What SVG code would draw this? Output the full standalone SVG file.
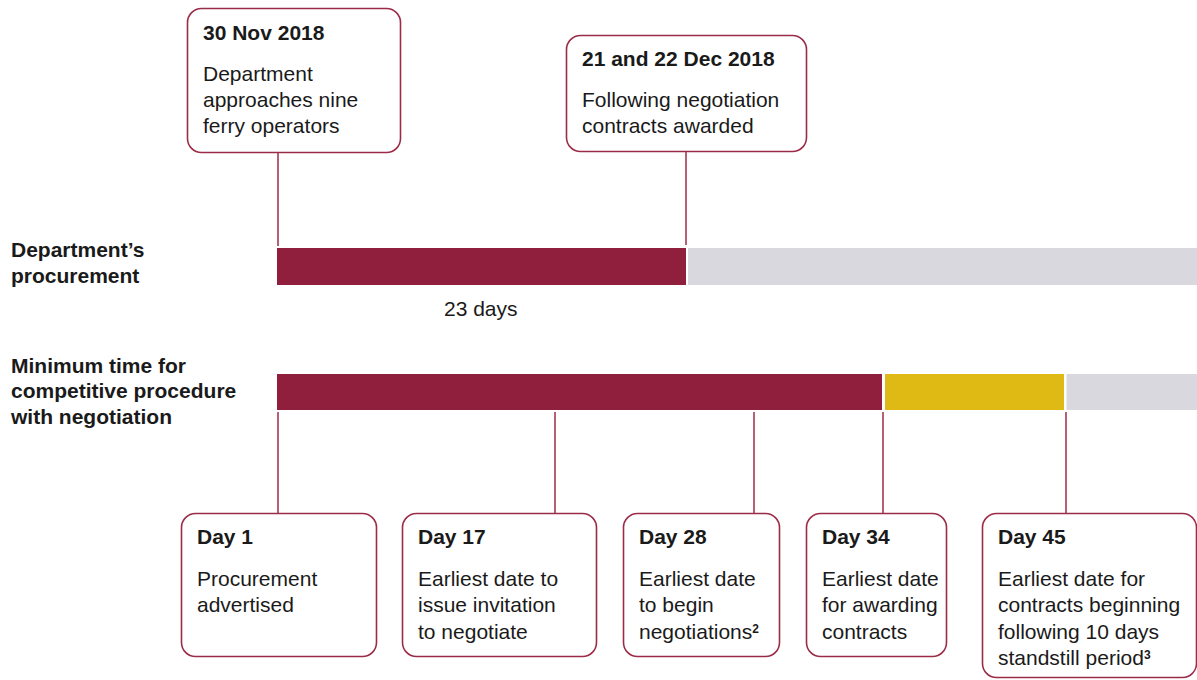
<svg xmlns="http://www.w3.org/2000/svg" width="1197" height="680" viewBox="0 0 1197 680">
<style>
text{font-family:"Liberation Sans",Arial,sans-serif;font-size:21px;fill:#1a1a1a}
.b{font-weight:bold}
.box{fill:#fff;stroke:#9b2c48;stroke-width:1.6}
.conn{stroke:#9b2c48;stroke-width:1.5;fill:none}
.red{fill:#8f1f3d}
.yel{fill:#dfb914}
.gry{fill:#d9d8de}
.sup{font-size:12px;font-weight:bold}
</style>
<rect width="1197" height="680" fill="#fff"/>
<g id="connectors">
<line class="conn" x1="278" y1="152" x2="278" y2="246"/>
<line class="conn" x1="686" y1="151" x2="686" y2="245"/>
<line class="conn" x1="278" y1="412" x2="278" y2="513"/>
<line class="conn" x1="555" y1="412" x2="555" y2="513"/>
<line class="conn" x1="754" y1="412" x2="754" y2="513"/>
<line class="conn" x1="883" y1="412" x2="883" y2="513"/>
<line class="conn" x1="1066" y1="412" x2="1066" y2="513"/>
</g>
<g id="bars">
<rect class="red" x="277" y="248" width="409" height="37"/>
<rect class="gry" x="688" y="248" width="509" height="37"/>
<rect class="red" x="277" y="374" width="605" height="36"/>
<rect class="yel" x="885" y="374" width="179" height="36"/>
<rect class="gry" x="1066.5" y="374" width="131" height="36"/>
</g>
<g id="labels">
<text class="b" x="11" y="257">Department’s</text>
<text class="b" x="11" y="283">procurement</text>
<text class="b" x="11" y="373">Minimum time for</text>
<text class="b" x="11" y="398">competitive procedure</text>
<text class="b" x="11" y="424">with negotiation</text>
<text x="444" y="316">23 days</text>
</g>
<g id="n-nov30">
<rect class="box" x="187.5" y="8.5" width="213" height="144" rx="14"/>
<text class="b" x="203" y="40">30 Nov 2018</text>
<text x="203" y="81">Department</text>
<text x="203" y="107">approaches nine</text>
<text x="203" y="133">ferry operators</text>
</g>
<g id="n-dec21">
<rect class="box" x="566.5" y="35.5" width="240" height="116" rx="14"/>
<text class="b" x="582" y="66">21 and 22 Dec 2018</text>
<text x="582" y="107">Following negotiation</text>
<text x="582" y="133">contracts awarded</text>
</g>
<g id="n-day1">
<rect class="box" x="181.5" y="513.5" width="195" height="143" rx="14"/>
<text class="b" x="197" y="544">Day 1</text>
<text x="197" y="586">Procurement</text>
<text x="197" y="612">advertised</text>
</g>
<g id="n-day17">
<rect class="box" x="402.5" y="513.5" width="194" height="143" rx="14"/>
<text class="b" x="418" y="544">Day 17</text>
<text x="418" y="586">Earliest date to</text>
<text x="418" y="612">issue invitation</text>
<text x="418" y="639">to negotiate</text>
</g>
<g id="n-day28">
<rect class="box" x="623.5" y="513.5" width="156" height="143" rx="14"/>
<text class="b" x="639" y="544">Day 28</text>
<text x="639" y="586">Earliest date</text>
<text x="639" y="612">to begin</text>
<text x="639" y="639">negotiations<tspan class="sup" dy="-6">2</tspan></text>
</g>
<g id="n-day34">
<rect class="box" x="806.5" y="513.5" width="140" height="143" rx="14"/>
<text class="b" x="822" y="544">Day 34</text>
<text x="822" y="586">Earliest date</text>
<text x="822" y="612">for awarding</text>
<text x="822" y="639">contracts</text>
</g>
<g id="n-day45">
<rect class="box" x="982.5" y="513.5" width="214" height="164" rx="14"/>
<text class="b" x="998" y="544">Day 45</text>
<text x="998" y="586">Earliest date for</text>
<text x="998" y="612">contracts beginning</text>
<text x="998" y="639">following 10 days</text>
<text x="998" y="665">standstill period<tspan class="sup" dy="-6">3</tspan></text>
</g>
</svg>
